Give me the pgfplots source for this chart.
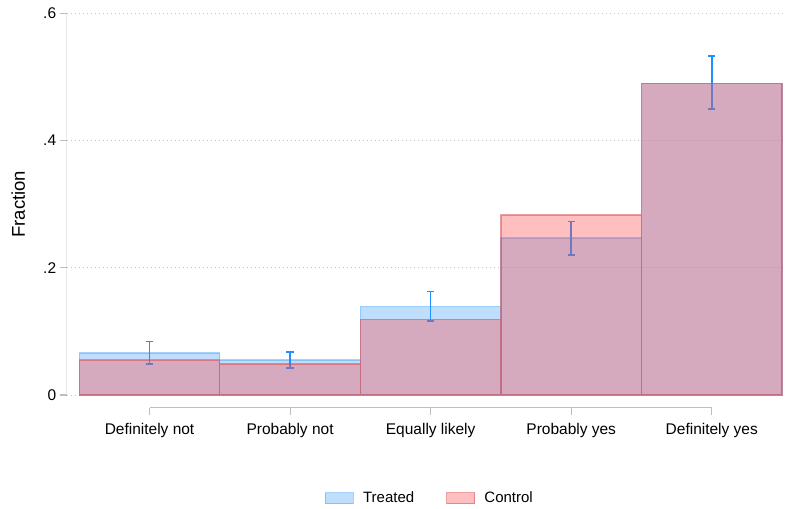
\documentclass[border=0pt]{standalone}
\usepackage{fontspec}
\setmainfont{Liberation Sans}
\usepackage{pgfplots}
\usepackage{pgfplotstable}
\pgfplotsset{compat=1.18}

\definecolor{treatedC}{RGB}{79,166,247}
\definecolor{controlC}{RGB}{255,81,85}
\definecolor{errC}{RGB}{30,144,255}
\definecolor{axisC}{RGB}{190,190,190}

% treated share with its confidence interval (upper / lower distance)
\pgfplotstableread{
x  y      ep     em
0  0.066  0.018  0.017
1  0.055  0.013  0.012
2  0.139  0.024  0.023
3  0.247  0.026  0.027
4  0.490  0.043  0.040
}\treated
\pgfplotstableread{
x  y
0  0.055
1  0.049
2  0.119
3  0.283
4  0.490
}\control

\pgfplotsset{
  boxleg/.style={legend image code/.code={
    \draw[##1] (0bp,-5.6bp) rectangle (28bp,5.6bp);
    \path (35bp,0bp);}},
}

\begin{document}
\begin{tikzpicture}
\begin{axis}[
    scale only axis,
    width=718.3bp, height=394.7bp,
    xmin=-0.5896, xmax=4.518,
    ymin=-0.02, ymax=0.6,
    axis line style={draw=none},
    xtick={0,1,2,3,4},
    xticklabels={Definitely not, Probably not, Equally likely, Probably yes, Definitely yes},
    ytick={0,0.2,0.4,0.6},
    yticklabels={0,.2,.4,.6},
    xtick pos=left, ytick pos=left,
    tick align=outside,
    major tick length=7bp,
    tick style={axisC, line width=1.2bp},
    ticklabel style={font=\fontsize{15.5bp}{18bp}\selectfont},
    xticklabel style={yshift=-5bp},
    ymajorgrids,
    major grid style={gray!45, line width=0.8bp, dash pattern=on 1bp off 3bp},
    ylabel={Fraction},
    ylabel style={at={(axis description cs:-0.0674,0.516)}, anchor=center,
      font=\fontsize{18.5bp}{22bp}\selectfont},
    legend columns=2,
    legend style={at={(axis description cs:0.5058,-0.229)}, anchor=center,
      draw=none, font=\fontsize{15bp}{18bp}\selectfont,
      /tikz/every even column/.append style={column sep=30bp}},
]
% y axis line (0 to .6) and x axis line (first to last category)
\draw[axisC, line width=1.2bp] (axis cs:-0.5896,0) -- (axis cs:-0.5896,0.6);
\draw[axisC, line width=1.2bp] (axis cs:0,-0.02) -- (axis cs:4,-0.02);

\addplot[ybar, bar width=1, bar shift=0pt, boxleg,
  fill=treatedC, fill opacity=0.37, draw=treatedC, draw opacity=0.5, line width=1.3bp]
  table[x=x, y=y] {\treated};
\addlegendentry{Treated}

\addplot[draw=none, mark=none, forget plot,
  error bars/.cd, y dir=both, y explicit,
  error bar style={draw=errC, line width=1.6bp, solid},
  error mark=|,
  error mark options={draw=errC, line width=1.6bp, mark size=3.7bp}]
  table[x=x, y=y, y error plus=ep, y error minus=em] {\treated};

\addplot[ybar, bar width=1, bar shift=0pt, boxleg,
  fill=controlC, fill opacity=0.37, draw=controlC!85!black, draw opacity=0.5, line width=1.3bp]
  table[x=x, y=y] {\control};
\addlegendentry{Control}
\end{axis}
\path (current axis.south west) ++(-66.7bp,-98bp) rectangle ++(785bp,506bp);
\end{tikzpicture}
\end{document}
